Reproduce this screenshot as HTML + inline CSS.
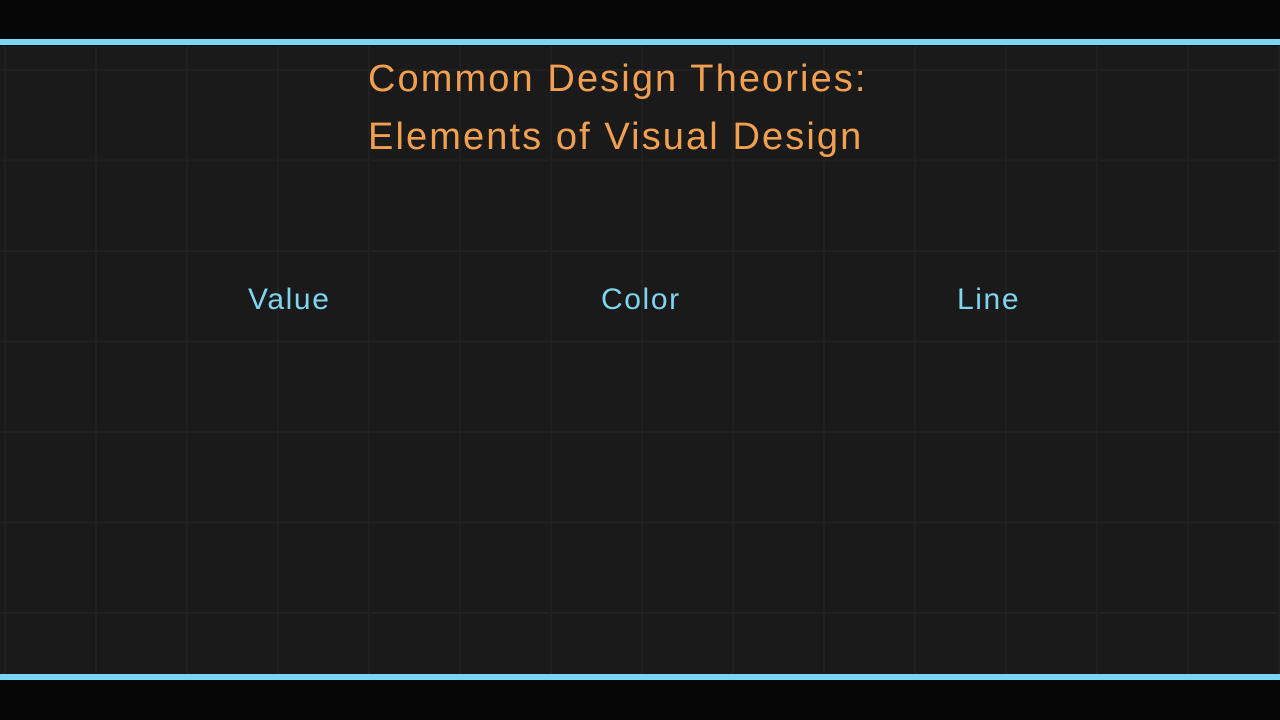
<!DOCTYPE html>
<html><head><style>
body{margin:0;width:1280px;height:720px;background:#050505;position:relative;overflow:hidden;font-family:"Liberation Sans",sans-serif}
.bar{position:absolute;left:0;width:1280px;height:6px;background:#7ad6f2}
.main{position:absolute;left:0;top:46px;width:1280px;height:628px;background-color:#1a1a1a;
background-image:linear-gradient(90deg,#202020 2px,transparent 2px),linear-gradient(#202020 2px,transparent 2px);
background-size:91px 90.5px;background-position:4px 23px}
.t{position:absolute;color:#f0a050;font-size:38px;left:368px;letter-spacing:2.1px}
.l{position:absolute;color:#7fd4f0;font-size:30px;top:283px;letter-spacing:1.6px}
</style></head><body>
<div class="bar" style="top:39px"></div>
<div class="main"></div>
<div class="bar" style="top:674px"></div>
<div class="t" style="top:58px">Common Design Theories:</div>
<div class="t" style="top:116px">Elements of Visual Design</div>
<div class="l" style="left:248px">Value</div>
<div class="l" style="left:601px">Color</div>
<div class="l" style="left:957px">Line</div>
</body></html>
